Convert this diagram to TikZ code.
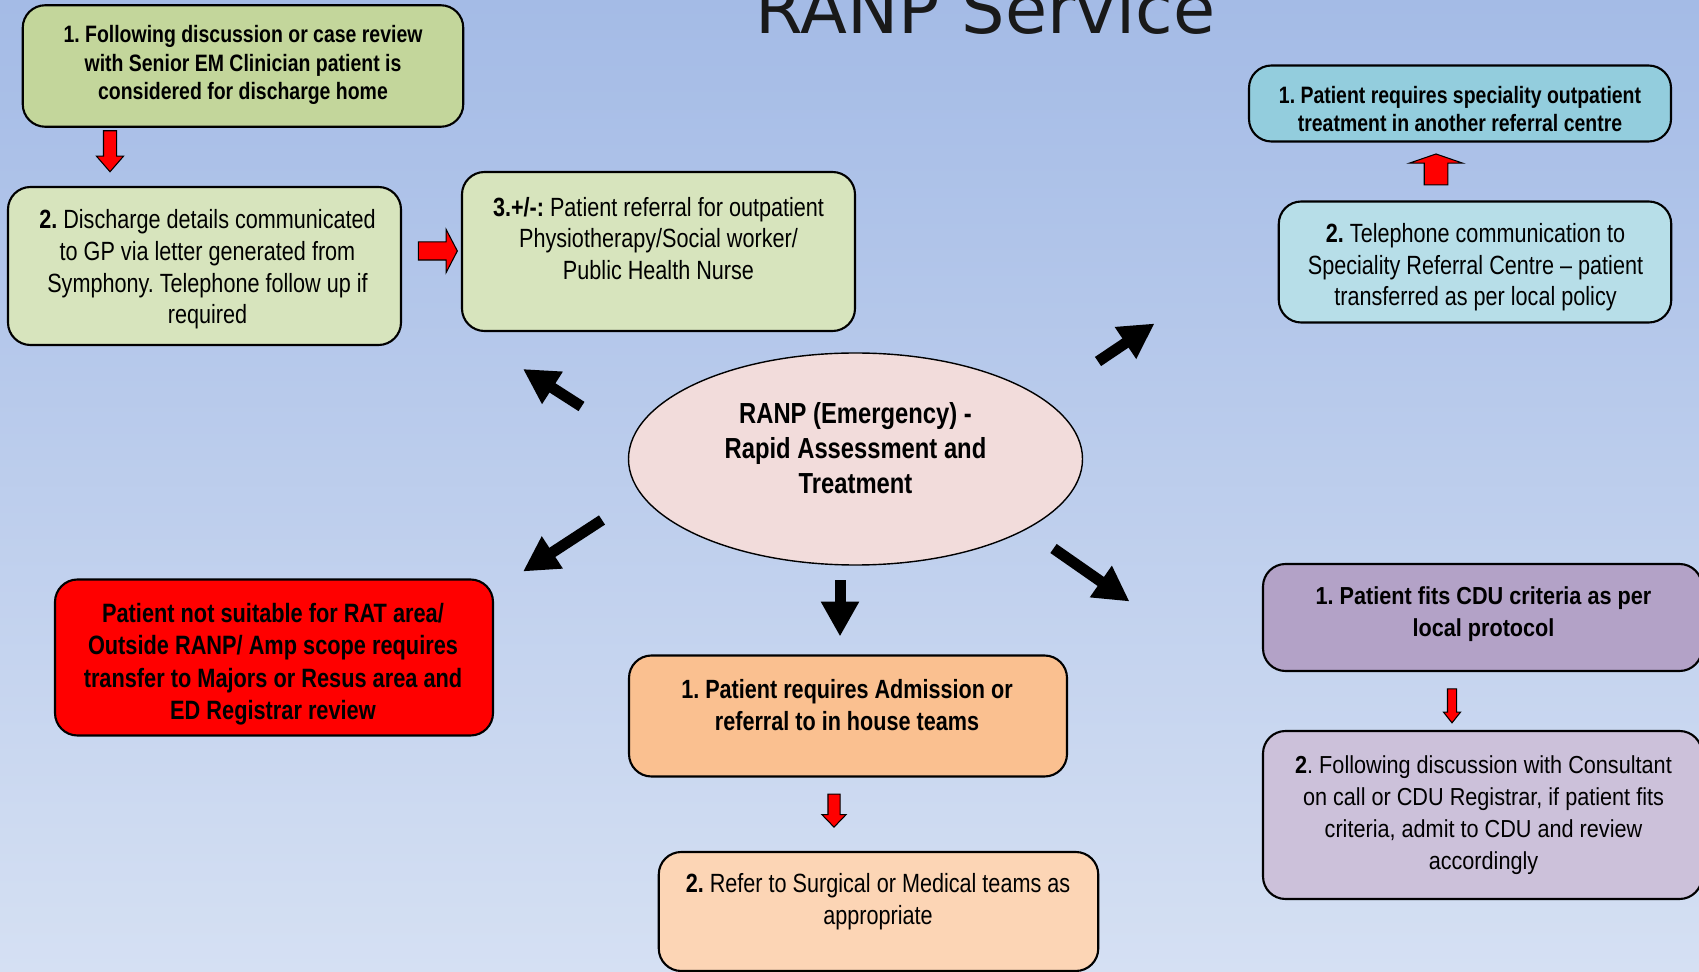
\documentclass[tikz,border=0pt]{standalone}
\usepackage{fontspec}
\setmainfont{Liberation Sans}
\newfontfamily\narrowfont[FakeStretch=0.82]{Liberation Sans}
\newfontfamily\widefont[FakeStretch=0.88]{Liberation Sans}
\newfontfamily\titlefont{DejaVu Sans}
\usetikzlibrary{shapes.geometric}
\usetikzlibrary{shapes.arrows}
\usetikzlibrary{arrows.meta}
\frenchspacing

\definecolor{bgtop}{HTML}{A4BBE6}
\definecolor{bgbot}{HTML}{D5E0F3}
\definecolor{olive}{HTML}{C3D69B}
\definecolor{palegreen}{HTML}{D7E4BD}
\definecolor{cyanbox}{HTML}{93CDDD}
\definecolor{palecyan}{HTML}{B7DEE8}
\definecolor{ranpfill}{HTML}{F2DCDB}
\definecolor{orangebox}{HTML}{FAC090}
\definecolor{paleorange}{HTML}{FCD5B5}
\definecolor{purplebox}{HTML}{B3A2C7}
\definecolor{palepurple}{HTML}{CCC1DA}

\tikzset{
  box/.style={draw=black, line width=1.2pt, rounded corners=0.45cm, inner sep=0pt},
  btxt/.style 2 args={align=center, inner sep=0pt, font=\narrowfont\bfseries\fontsize{#1}{#2}\selectfont},
  rtxt/.style 2 args={align=center, inner sep=0pt, font=\narrowfont\fontsize{#1}{#2}\selectfont},
  redarrow/.style={single arrow, draw=black, line width=0.6pt, fill=red},
  bigarrow/.style={line width=0.22cm, -{Triangle[width=0.72cm,length=0.7cm]}}
}

\begin{document}
\begin{tikzpicture}

\useasboundingbox (0,0) rectangle (33.98,-19.44);
\fill[top color=bgtop, bottom color=bgbot] (0,0) rectangle (33.98,-19.44);

\node[anchor=base, font=\titlefont\fontsize{39}{44}\selectfont, text=black!90] (title) at (19.71,-0.68) {RANP Service};

% discharge home
\node[box, fill=olive, minimum width=8.81cm, minimum height=2.43cm] (home1) at (4.86,-1.32) {};
\node[btxt={13.5}{16.2}] (home1t) at (4.86,-1.30) {1. Following discussion or case review\\with Senior EM Clinician patient is\\considered for discharge home};
\node[box, fill=palegreen, minimum width=7.86cm, minimum height=3.16cm] (home2) at (4.09,-5.32) {};
\node[rtxt={15}{18}] (home2t) at (4.15,-5.39) {\textbf{2.} Discharge details communicated\\to GP via letter generated from\\Symphony. Telephone follow up if\\required};
\node[box, fill=palegreen, minimum width=7.86cm, minimum height=3.18cm] (home3) at (13.17,-5.03) {};
\node[rtxt={15}{18}] (home3t) at (13.17,-4.77) {\textbf{3.+/-:} Patient referral for outpatient\\Physiotherapy/Social worker/\\Public Health Nurse};

\node[redarrow, inner sep=0.12cm, single arrow head extend=0.14cm, single arrow tip angle=82, minimum height=0.82cm, shape border rotate=270] (down1) at (2.2,-2.95) {};
\node[redarrow, inner sep=0.17cm, single arrow head extend=0.25cm, single arrow tip angle=125, minimum height=0.78cm] (right1) at (8.71,-5.02) {};

% speciality referral
\node[box, fill=cyanbox, minimum width=8.44cm, minimum height=1.52cm] (spec1) at (29.2,-2.07) {};
\node[btxt={13.5}{16}] (spec1t) at (29.2,-2.18) {1. Patient requires speciality outpatient\\treatment in another referral centre};
\node[box, fill=palecyan, minimum width=7.85cm, minimum height=2.42cm] (spec2) at (29.5,-5.24) {};
\node[rtxt={15}{17.9}] (spec2t) at (29.51,-5.35) {\textbf{2.} Telephone communication to\\Speciality Referral Centre – patient\\transferred as per local policy};
\node[redarrow, inner sep=0.225cm, single arrow head extend=0.295cm, single arrow tip angle=142, minimum height=0.62cm, shape border rotate=90] (up1) at (28.72,-3.43) {};

% centre
\node[ellipse, draw=black, line width=0.8pt, fill=ranpfill, minimum width=9.08cm, minimum height=4.24cm, inner sep=0pt] (ranp) at (17.11,-9.18) {};
\node[btxt={16.5}{19.8}] (ranpt) at (17.11,-8.96) {RANP (Emergency) -\\Rapid Assessment and\\Treatment};

\coordinate (nwA) at (11.63,-8.13);
\coordinate (nwB) at (10.46,-7.38);
\coordinate (neA) at (21.96,-7.23);
\coordinate (neB) at (23.09,-6.47);
\coordinate (swA) at (12.04,-10.4);
\coordinate (swB) at (10.46,-11.43);
\coordinate (sA) at (16.8,-11.6);
\coordinate (sB) at (16.8,-12.73);
\coordinate (seA) at (21.07,-10.97);
\coordinate (seB) at (22.59,-12.03);
\draw[bigarrow] (nwA) -- (nwB);
\draw[bigarrow] (neA) -- (neB);
\draw[bigarrow] (swA) -- (swB);
\draw[bigarrow] (sA) -- (sB);
\draw[bigarrow] (seA) -- (seB);

% majors / resus
\node[box, fill=red, minimum width=8.76cm, minimum height=3.12cm] (resus) at (5.48,-13.15) {};
\node[btxt={15.1}{18.5}] (resust) at (5.46,-13.28) {Patient not suitable for RAT area/\\Outside RANP/ Amp scope requires\\transfer to Majors or Resus area and\\ED Registrar review};

% admission
\node[box, fill=orangebox, minimum width=8.76cm, minimum height=2.42cm] (adm1) at (16.96,-14.32) {};
\node[btxt={15}{18}] (adm1t) at (16.94,-14.1) {1. Patient requires Admission or\\referral to in house teams};
\node[box, fill=paleorange, minimum width=8.79cm, minimum height=2.38cm] (adm2) at (17.57,-18.23) {};
\node[rtxt={15}{18.4}] (adm2t) at (17.56,-18.04) {\textbf{2.} Refer to Surgical or Medical teams as\\appropriate};
\node[redarrow, inner sep=0.11cm, single arrow head extend=0.12cm, single arrow tip angle=88, minimum height=0.66cm, shape border rotate=270] (down2) at (16.68,-16.15) {};

% CDU
\node[box, fill=purplebox, minimum width=8.78cm, minimum height=2.14cm] (cdu1) at (29.65,-12.35) {};
\node[align=center, inner sep=0pt, font=\widefont\bfseries\fontsize{14}{17.9}\selectfont] (cdu1t) at (29.67,-12.28) {1. Patient fits CDU criteria as per\\local protocol};
\node[box, fill=palepurple, minimum width=8.78cm, minimum height=3.36cm] (cdu2) at (29.65,-16.3) {};
\node[align=center, inner sep=0pt, font=\widefont\fontsize{14}{18.3}\selectfont] (cdu2t) at (29.67,-16.3) {\textbf{2}. Following discussion with Consultant\\on call or CDU Registrar, if patient fits\\criteria, admit to CDU and review\\accordingly};
\node[redarrow, inner sep=0.08cm, single arrow head extend=0.08cm, single arrow tip angle=77, minimum height=0.68cm, shape border rotate=270] (down3) at (29.04,-14.06) {};

\end{tikzpicture}
\end{document}
